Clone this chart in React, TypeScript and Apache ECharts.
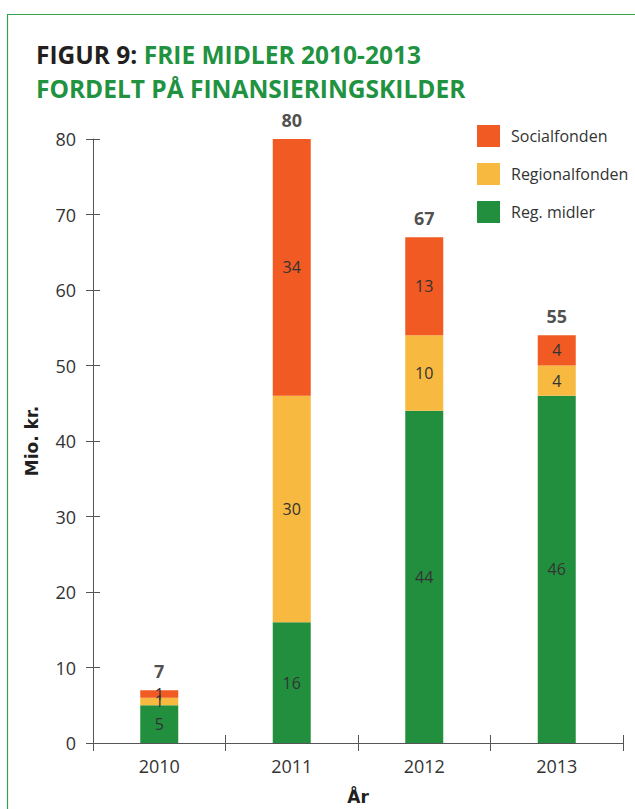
import React, { useEffect, useRef } from "react";
import * as echarts from "echarts";

const years = ["2010", "2011", "2012", "2013"];
const regMidler = [5, 16, 44, 46];
const regionalfonden = [1, 30, 10, 4];
const socialfonden = [1, 34, 13, 4];
const totals = [7, 80, 67, 55];
const yTicks = { min: 0, max: 80, interval: 10 };

const ORANGE = "#F15A22";
const YELLOW = "#F7B940";
const GREEN = "#228F3F";
const TITLE_GREEN = "#21923F";
const AXIS = "#555555";
const TXT = "#333333";
const FONT = "'Open Sans', sans-serif";
const TFONT = "'Open Sans', sans-serif";
const NFONT = "'DejaVu Sans', sans-serif";
const TSIZE = 24.5;

export default function App() {
  const ref = useRef<HTMLDivElement>(null);
  useEffect(() => {
    if (!ref.current) return;
    const chart = echarts.init(ref.current, undefined, { renderer: "svg" });
    const stackTop = years.map((_, i) => regMidler[i] + regionalfonden[i] + socialfonden[i]);
    const segLabel = {
      show: true,
      position: "inside",
      fontSize: 16,
      color: TXT,
      fontFamily: FONT,
    };
    chart.setOption({
      animation: false,
      backgroundColor: "#ffffff",
      graphic: [
        {
          type: "rect",
          shape: { x: 7.5, y: 14.5, width: 700, height: 900 },
          style: { fill: "none", stroke: "#35A04B", lineWidth: 1.2 },
          silent: true,
        },
        {
          type: "text",
          x: 36,
          y: 54,
          style: {
            text: "{a|FIGUR 9:} {b|FRIE MIDLER 2010-2013}",
            verticalAlign: "middle",
            rich: {
              a: { fontFamily: TFONT, fontWeight: "bold", fontSize: TSIZE, fill: "#231F20" },
              b: { fontFamily: TFONT, fontWeight: "bold", fontSize: TSIZE, fill: TITLE_GREEN },
            },
            fontFamily: TFONT,
            fontWeight: "bold",
            fontSize: TSIZE,
          },
        },
        {
          type: "text",
          x: 36,
          y: 88,
          style: {
            text: "FORDELT PÅ FINANSIERINGSKILDER",
            verticalAlign: "middle",
            fontFamily: TFONT,
            fontWeight: "bold",
            fontSize: TSIZE,
            fill: TITLE_GREEN,
          },
        },
      ],
      legend: {
        data: ["Socialfonden", "Regionalfonden", "Reg. midler"],
        orient: "vertical",
        left: 477,
        top: 125,
        padding: 0,
        itemWidth: 23,
        itemHeight: 22,
        itemGap: 16,
        icon: "rect",
        selectedMode: false,
        textStyle: { fontSize: 16, color: TXT, fontFamily: FONT, padding: [0, 0, 0, 6] },
      },
      grid: { left: 93, right: 12, top: 139, bottom: 66, containLabel: false, outerBoundsMode: "none" },
      xAxis: [
        {
          type: "category",
          data: years,
          position: "bottom",
          name: "År",
          nameLocation: "middle",
          nameGap: 45,
          nameTextStyle: { fontSize: 17, fontWeight: "bold", color: "#231F20", fontFamily: NFONT },
          axisLine: { lineStyle: { color: AXIS, width: 1 } },
          axisTick: { show: true, length: 8, lineStyle: { color: AXIS } },
          axisLabel: { fontSize: 18, color: TXT, fontFamily: FONT, margin: 14 },
        },
        {
          type: "category",
          data: years,
          position: "bottom",
          axisLine: { show: false },
          axisTick: { show: true, inside: true, length: 8, lineStyle: { color: AXIS } },
          axisLabel: { show: false },
        },
      ],
      yAxis: [
        {
          type: "value",
          ...yTicks,
          position: "left",
          name: "Mio. kr.",
          nameLocation: "middle",
          nameGap: 53,
          nameRotate: 90,
          nameTextStyle: { fontSize: 17, fontWeight: "bold", color: "#231F20", fontFamily: NFONT },
          axisLine: { show: true, lineStyle: { color: AXIS, width: 1 } },
          axisTick: { show: true, length: 7, lineStyle: { color: AXIS } },
          axisLabel: { fontSize: 18, color: TXT, fontFamily: FONT, margin: 17 },
          splitLine: { show: false },
        },
        {
          type: "value",
          ...yTicks,
          position: "left",
          axisLine: { show: false },
          axisTick: { show: true, inside: true, length: 7, lineStyle: { color: AXIS } },
          axisLabel: { show: false },
          splitLine: { show: false },
        },
      ],
      series: [
        {
          name: "Reg. midler",
          type: "bar",
          stack: "a",
          barWidth: 38,
          data: regMidler,
          itemStyle: { color: GREEN },
          label: segLabel,
        },
        {
          name: "Regionalfonden",
          type: "bar",
          stack: "a",
          barWidth: 38,
          data: regionalfonden,
          itemStyle: { color: YELLOW },
          label: segLabel,
        },
        {
          name: "Socialfonden",
          type: "bar",
          stack: "a",
          barWidth: 38,
          data: socialfonden,
          itemStyle: { color: ORANGE },
          label: segLabel,
        },
        {
          name: "total",
          type: "scatter",
          data: stackTop,
          symbolSize: 1,
          itemStyle: { color: "rgba(0,0,0,0)" },
          label: {
            show: true,
            position: "top",
            distance: 10,
            formatter: (p: any) => String(totals[p.dataIndex]),
            fontSize: 18,
            fontWeight: "bold",
            color: "#231F20",
            fontFamily: FONT,
          },
          silent: true,
        },
      ],
    });
    return () => chart.dispose();
  }, []);
  return (
    <div
      ref={ref}
      style={{ position: "absolute", left: 0, top: 0, width: 635, height: 809 }}
    />
  );
}
